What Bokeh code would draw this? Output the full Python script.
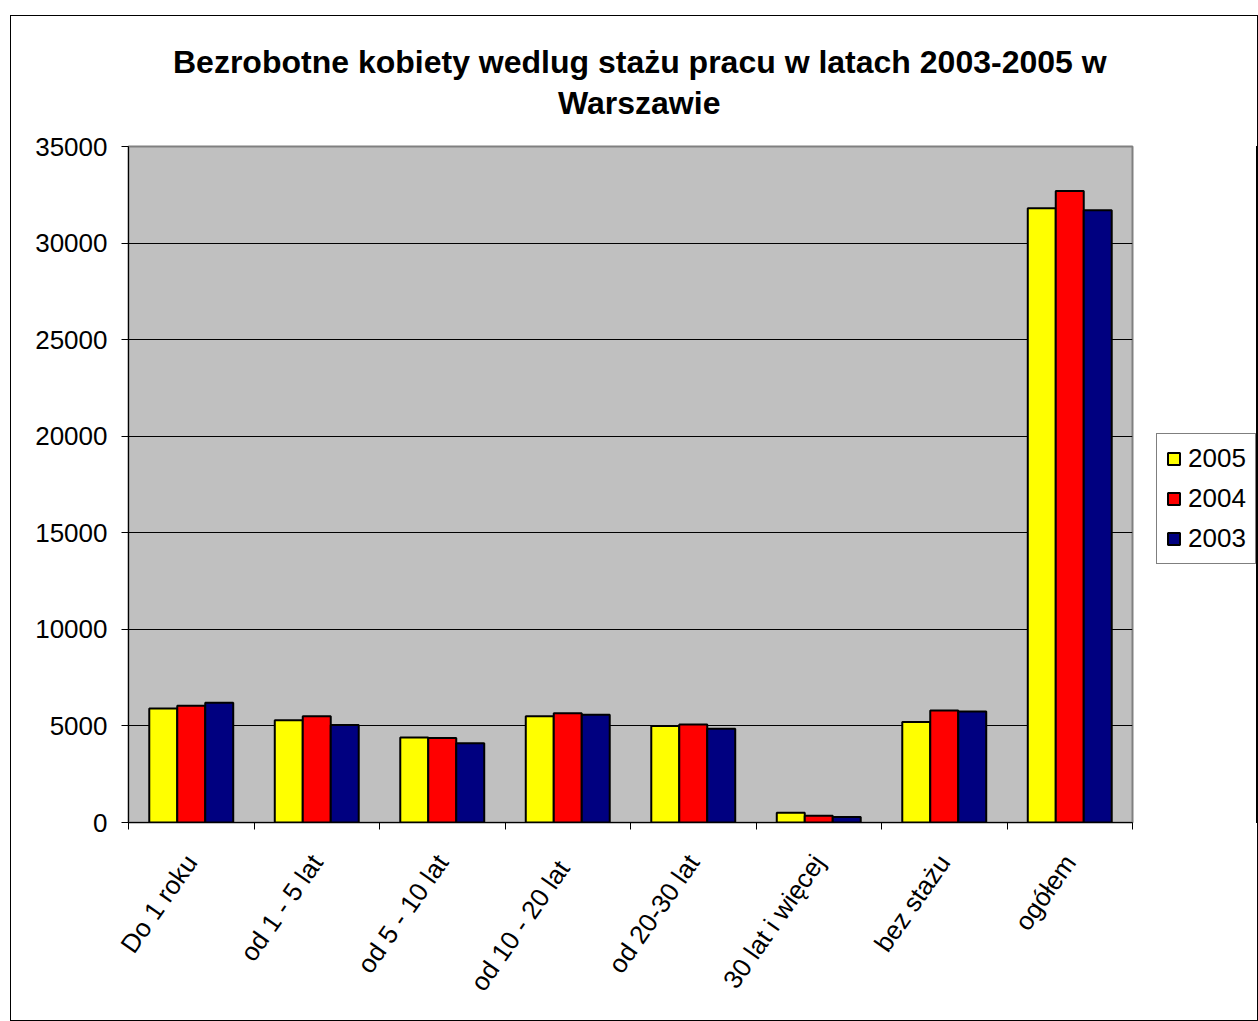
from bokeh.plotting import figure
from bokeh.layouts import row, column
from bokeh.models import (ColumnDataSource, FactorRange, Range1d, LinearAxis, CategoricalAxis,
                          FixedTicker, Legend, LegendItem, Div)
from bokeh.transform import dodge
from bokeh.embed import file_html
from bokeh.resources import INLINE

categories = ["Do 1 roku", "od 1 - 5 lat", "od 5 - 10 lat", "od  10 - 20 lat",
              "od 20-30 lat", "30 lat i więcej", "bez stażu", "ogółem"]
v2005 = [5900, 5300, 4400, 5500, 5000, 500, 5200, 31800]
v2004 = [6050, 5500, 4380, 5650, 5070, 350, 5800, 32700]
v2003 = [6200, 5050, 4100, 5580, 4850, 280, 5750, 31700]
series_names = ["2005", "2004", "2003"]
series_colors = ["#FFFF00", "#FF0000", "#000080"]
y_ticks = [0, 5000, 10000, 15000, 20000, 25000, 30000, 35000]
title_line1 = "Bezrobotne kobiety wedlug stażu pracu w latach 2003-2005 w"
title_line2 = "Warszawie"

FONT = "Liberation Sans"
FRAME_W, FRAME_H = 1004, 676
TITLE_H = 120

src = ColumnDataSource(dict(cat=categories, y2005=v2005, y2004=v2004, y2003=v2003))

# title block
title_html = (
    f"<div style=\"position:relative; width:1246px; height:{TITLE_H}px; "
    f"font-family:'{FONT}'; font-weight:bold; font-size:32px; color:black;\">"
    f"<div style=\"position:absolute; left:162px; top:30px; line-height:1; white-space:nowrap;\">{title_line1}</div>"
    f"<div style=\"position:absolute; left:547px; top:71px; line-height:1; white-space:nowrap;\">{title_line2}</div>"
    "</div>"
)
title_div = Div(text=title_html, width=1246, height=TITLE_H, margin=0)

p = figure(x_range=FactorRange(*categories, range_padding=0),
           y_range=Range1d(0, 35000),
           frame_width=FRAME_W, frame_height=FRAME_H,
           output_backend="svg", toolbar_location=None,
           x_axis_location=None, y_axis_location="left",
           min_border_left=117, min_border_right=24,
           min_border_top=10, min_border_bottom=198)

p.background_fill_color = "#C0C0C0"
p.border_fill_color = "white"
p.outline_line_color = "#808080"
p.outline_line_width = 2

w = 0.223
fields = ["y2005", "y2004", "y2003"]
offsets = [-w, 0.0, w]
for f, off, col in zip(fields, offsets, series_colors):
    p.vbar(x=dodge("cat", off, range=p.x_range), top=f, width=w, bottom=0,
           source=src, fill_color=col, line_color="black", line_width=2)

# y axis
yax = p.yaxis[0]
yax.ticker = FixedTicker(ticks=y_ticks)
yax.major_label_text_font = FONT
yax.major_label_text_font_size = "26px"
yax.major_label_text_color = "black"
yax.axis_line_color = "black"
yax.axis_line_width = 1
yax.major_tick_out = 7
yax.major_tick_in = 0
yax.minor_tick_line_color = None
yax.major_tick_line_color = "black"
yax.major_label_standoff = 14

p.ygrid.ticker = FixedTicker(ticks=y_ticks)
p.ygrid.grid_line_color = "black"
p.ygrid.grid_line_width = 1
p.xgrid.grid_line_color = None

# tick-only axis at category boundaries (synthetic coordinates of the factor range)
sep_ticks = list(range(len(categories) + 1))
tick_axis = LinearAxis(ticker=FixedTicker(ticks=sep_ticks),
                       major_label_overrides={t: "" for t in sep_ticks},
                       major_label_text_font_size="1px", major_label_standoff=0,
                       major_tick_out=7, major_tick_in=0, minor_tick_line_color=None,
                       axis_line_color="black", major_tick_line_color="black")
p.add_layout(tick_axis, "below")

cat_axis = CategoricalAxis(major_tick_line_color=None, axis_line_color=None,
                           minor_tick_line_color=None,
                           major_label_text_font=FONT, major_label_text_font_size="26px",
                           major_label_text_color="black",
                           major_label_orientation=0.96, major_label_standoff=22)
p.add_layout(cat_axis, "below")

# legend panel (its frame is aligned with the main frame by the row layout)
lp = figure(width=101, height=TITLE_H and 884, x_range=Range1d(0, 1), y_range=Range1d(0, 1),
            output_backend="svg", toolbar_location=None,
            x_axis_location=None, y_axis_location=None,
            min_border_left=0, min_border_right=0, min_border_top=0, min_border_bottom=0)
lp.outline_line_color = None
lp.background_fill_color = "white"
lp.border_fill_color = "white"
lp.xgrid.grid_line_color = None
lp.ygrid.grid_line_color = None
legend_renderers = []
for f, col in zip(fields, series_colors):
    # the series values lie far outside this panel's 0..1 range, so only the legend shows
    legend_renderers.append(lp.vbar(x=f, top=f, width=0.2, source=src, fill_color=col,
                                    line_color="black", line_width=2))
legend = Legend(items=[LegendItem(label=n, renderers=[r]) for n, r in zip(series_names, legend_renderers)],
                location=(0, 258), margin=0, padding=9, spacing=9,
                glyph_width=15, glyph_height=15, label_standoff=7,
                label_text_font=FONT, label_text_font_size="26px", label_text_color="black",
                border_line_color="black", border_line_width=1,
                background_fill_color="white", background_fill_alpha=1)
lp.add_layout(legend, "center")

layout = column(title_div, row(p, lp), margin=(15, 0, 0, 10),
                styles={"border": "1px solid black"})

open("out.html", "w").write(file_html(layout, INLINE))
